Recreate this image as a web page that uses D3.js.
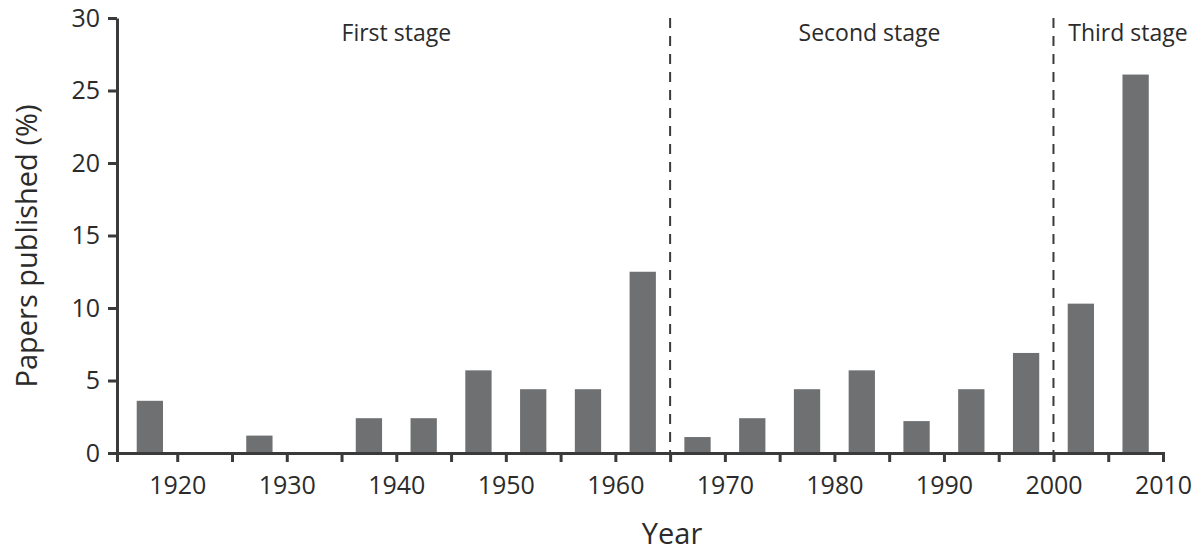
<!DOCTYPE html>
<html>
<head>
<meta charset="utf-8">
<script src="https://cdn.jsdelivr.net/npm/d3@7"></script>
<style>
  body { margin: 0; background: #fff; }
  svg { font-family: "Open Sans", sans-serif; }
  .axis path, .axis line { stroke: #3a3a3a; stroke-width: 3; }
  .axis text { font-size: 25px; fill: #2b2b2b; font-family: "Open Sans", sans-serif; }
</style>
</head>
<body>
<svg width="1198" height="552"></svg>
<script>
// 5-year bins, start year of each
const binStarts = [1915, 1920, 1925, 1930, 1935, 1940, 1945, 1950, 1955, 1960,
  1965, 1970, 1975, 1980, 1985, 1990, 1995, 2000, 2005];
const papersPct = [3.6, 0, 1.2, 0, 2.4, 2.4, 5.7, 4.4, 4.4, 12.5,
  1.1, 2.4, 4.4, 5.7, 2.2, 4.4, 6.9, 10.3, 26.1];

const xTickYears = d3.range(1920, 2011, 5);
const xLabelYears = [1920, 1930, 1940, 1950, 1960, 1970, 1980, 1990, 2000, 2010];
const yTicks = [0, 5, 10, 15, 20, 25, 30];

const stageBreaks = [1965, 2000];
const stageNames = ["First stage", "Second stage", "Third stage"];
const stageLabelYears = [1940, 1983.2, 2006.8];

const svg = d3.select("svg");

const x = d3.scaleLinear().domain([1914.5, 2010]).range([117, 1163]);
const y = d3.scaleLinear().domain([0, 30]).range([453, 18]);

const xAxis = d3
  .axisBottom(x)
  .tickValues(xTickYears)
  .tickSize(9)
  .tickSizeOuter(9)
  .tickPadding(14)
  .tickFormat((d) => (xLabelYears.includes(d) ? d : ""));

const yAxis = d3.axisLeft(y).tickValues(yTicks).tickSize(9).tickSizeOuter(0).tickPadding(8);

// bars
svg
  .selectAll(".bar")
  .data(binStarts.map((s, i) => ({ start: s, value: papersPct[i] })))
  .enter()
  .append("rect")
  .attr("class", "bar")
  .attr("x", (d) => x(d.start + 1.3))
  .attr("width", (d) => x(d.start + 3.7) - x(d.start + 1.3))
  .attr("y", (d) => y(d.value))
  .attr("height", (d) => y(0) - y(d.value))
  .attr("fill", "#6f7072");

// stage dividers
svg
  .selectAll(".divider")
  .data(stageBreaks)
  .enter()
  .append("line")
  .attr("x1", (d) => x(d))
  .attr("x2", (d) => x(d))
  .attr("y1", y(30))
  .attr("y2", y(0))
  .attr("stroke", "#3a3a3a")
  .attr("stroke-width", 2)
  .attr("stroke-dasharray", "10,8");

svg
  .append("g")
  .attr("class", "axis")
  .attr("transform", `translate(0,${y(0)})`)
  .call(xAxis);

svg.append("g").attr("class", "axis").attr("transform", `translate(${x(1914.5)},0)`).call(yAxis);

svg.selectAll(".axis .tick text").attr("fill", "#2b2b2b");

// stage labels
svg
  .selectAll(".stage")
  .data(stageNames)
  .enter()
  .append("text")
  .attr("x", (d, i) => x(stageLabelYears[i]))
  .attr("y", 41)
  .attr("text-anchor", "middle")
  .attr("font-size", 23)
  .attr("fill", "#2b2b2b")
  .text((d) => d);

svg
  .append("text")
  .attr("x", 672)
  .attr("y", 544)
  .attr("text-anchor", "middle")
  .attr("font-size", 29)
  .attr("fill", "#2b2b2b")
  .text("Year");

svg
  .append("text")
  .attr("transform", `translate(37,246) rotate(-90)`)
  .attr("text-anchor", "middle")
  .attr("font-size", 29)
  .attr("fill", "#2b2b2b")
  .text("Papers published (%)");
</script>
</body>
</html>
